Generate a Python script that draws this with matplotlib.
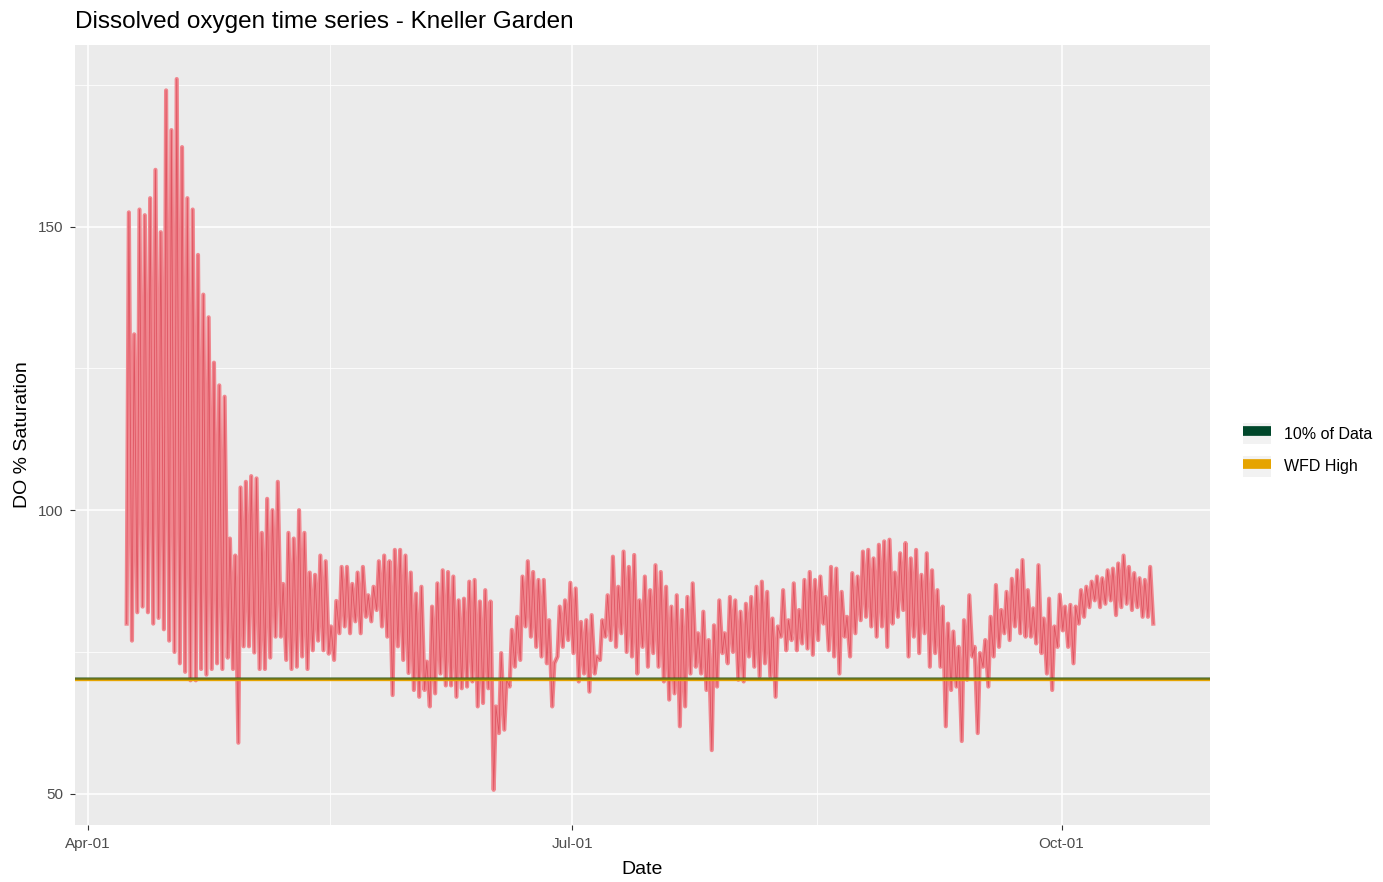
import matplotlib
matplotlib.use("Agg")
import matplotlib.pyplot as plt
import matplotlib.dates as mdates
from matplotlib.patches import Patch
from matplotlib.lines import Line2D
from matplotlib.legend_handler import HandlerTuple
import numpy as np
import pandas as pd

plt.rcParams['font.family'] = ['Liberation Sans', 'DejaVu Sans']

# daily DO % saturation at Kneller Garden: afternoon high and early-morning low
first_day = "2019-04-08"
daily_high = [
    152.5, 131, 153, 152, 155, 160, 149, 174, 167, 176,
    164, 155, 153, 145, 138, 134, 126, 122, 120, 95,
    92, 104, 105, 106, 105.6, 96, 102, 100, 105, 87,
    96, 95, 100, 96, 89, 88.6, 92, 91, 79.5, 84,
    90, 90, 87, 89, 90, 85, 86.5, 91, 92, 91,
    93, 93, 92, 89, 85.3, 86.5, 73.3, 83, 87.1, 89.4,
    89.1, 88.3, 84.1, 84.4, 87.4, 87.7, 83.9, 85.9, 83.9, 65.4,
    74.8, 70.1, 78.9, 81.2, 88.3, 91, 89.1, 87.7, 87.7, 80.6,
    73, 83, 84.1, 87.2, 86.2, 80.3, 80.6, 81.5, 74.2, 80.6,
    85, 91.8, 86.5, 92.7, 90,
    92.1, 84.1, 88.3, 85.9, 90.3, 89.1, 86.5, 83, 85, 82.4,
    84.7, 87.1, 78.3, 82.1, 77.1, 79.7, 84.1, 78.3, 84.7, 84.1,
    82.1, 83.5, 84.7, 86.5, 87.4, 85.6, 80.9, 79.5, 85.9, 80.6,
    87.1, 82.4, 87.7, 89.1, 87.7, 88.3, 84.7, 90, 89.7, 85.6,
    81.2, 88.9, 88.3, 92.7, 93, 91.5, 93.9, 94.5, 94.8, 89,
    92.4, 94.2, 91.5, 93, 88.6, 92.4, 89.4, 85.9, 83, 80,
    78.6, 75.9, 80.6, 85, 75.9, 74.8, 77.1, 81.2, 86.8, 82.4,
    85.6, 87.9, 89.4, 91.2, 85.9, 82.7, 90.3, 80.9, 84.4, 79.5,
    85.1, 83, 83.3, 83, 85.9, 86.5, 87.4, 88.3, 88, 89.4,
    89.7, 90.6, 92, 90, 88.9, 88, 87.7, 90,
]
daily_low = [
    80, 77, 82, 83, 82, 80, 81, 79, 77, 75,
    73, 71.5, 70, 70, 72, 71, 72, 73, 72, 74,
    72, 59, 76, 76, 74.9, 72, 72, 74, 77.7, 77.7,
    73.6, 72, 72.4, 74.2, 72, 75.3, 77, 75.3, 74.7, 73.6,
    78.3, 79.5, 78.3, 80.4, 78.3, 81.2, 80.4, 82.4, 79.5, 77.7,
    67.4, 76, 73.6, 71.3, 68.3, 67.1, 68.3, 65.4, 67.7, 71.2,
    69.1, 69.1, 67.1, 68.6, 68.9, 69.8, 65.4, 66, 68.6, 50.7,
    60.7, 61.3, 68.9, 72.4, 73.6, 79.5, 77.7, 75.9, 74.2, 73,
    65.4, 74.2, 75.9, 77.1, 74.8, 69.8, 71.2, 68, 71.2, 73.6,
    77.7, 77.1, 75.9, 78.3, 75,
    74.2, 71.2, 75.9, 72.4, 74.8, 72.4, 69.8, 66.6, 67.7, 61.9,
    65.4, 71.2, 72.4, 71.2, 68.3, 57.7, 68.9, 74.8, 73, 75,
    70.1, 69.8, 74.2, 72.4, 70.7, 73, 70.7, 67.1, 77.7, 75.3,
    77.1, 75.3, 76.5, 75.6, 74.5, 77.1, 80, 75.3, 74.2, 71.2,
    77.7, 74.2, 78.3, 80.6, 81.2, 79.5, 77.7, 79.5, 75.9, 80,
    81.2, 82.4, 74.2, 77.7, 74.8, 78.3, 72.4, 74.8, 72.4, 61.9,
    68.3, 68.9, 59.3, 70.1, 74.2, 60.7, 72.4, 68.9, 74.2, 75.9,
    78.3, 77.1, 79.5, 78.3, 77.7, 77.7, 76.5, 74.8, 71.2, 68.3,
    75.9, 78.8, 75.9, 73, 80, 81.2, 82.9, 84.1, 82.9, 83.5,
    84.1, 81.5, 82.9, 83.5, 82.4, 82.9, 81.2, 81.2,
]
last_reading = 80

wfd_high = 70.2
data_10pct = 70.4

days = pd.date_range(first_day, periods=len(daily_high), freq="D")
t_low = days + pd.Timedelta(hours=6)
t_high = days + pd.Timedelta(hours=16)

# interleave lows and highs into one time series
times = []
values = []
for tl, lo, th, hi in zip(t_low, daily_low, t_high, daily_high):
    times += [tl, th]
    values += [lo, hi]
times.append(days[-1] + pd.Timedelta(hours=30))
values.append(last_reading)

fig = plt.figure(figsize=(13.83, 8.82), dpi=100)
ax = fig.add_axes([75/1383, 1-825/882, (1210-75)/1383, (825-45)/882])
ax.set_facecolor('#EBEBEB')
for s in ax.spines.values():
    s.set_visible(False)

ax.plot(times, values, color='#F0868E', linewidth=3.0, zorder=3)
ax.plot(times, values, color='#D8404F', linewidth=0.6, alpha=0.7, zorder=3)
ax.axhline(wfd_high, color='#E6A400', linewidth=2.4, zorder=4)
ax.axhline(data_10pct, color='#00472B', linewidth=1.8, alpha=0.55, zorder=5)

ax.set_xlim(pd.Timestamp("2019-03-29 13:00"), pd.Timestamp("2019-10-28 22:00"))
ax.set_ylim(44.5, 182)

ax.set_yticks([50, 100, 150])
ax.set_yticks([75, 125, 175], minor=True)
ax.set_xticks([pd.Timestamp("2019-04-01"), pd.Timestamp("2019-07-01"), pd.Timestamp("2019-10-01")])
ax.set_xticks([pd.Timestamp("2019-05-16 12:00"), pd.Timestamp("2019-08-16")], minor=True)
ax.xaxis.set_major_formatter(mdates.DateFormatter('%b-%d'))

ax.grid(which='major', color='white', linewidth=1.1, zorder=0)
ax.grid(which='minor', color='white', linewidth=0.55, zorder=0)
ax.set_axisbelow(True)
ax.tick_params(which='major', length=3.5, width=0.8, color='#333333',
               labelsize=11, labelcolor='#4D4D4D', pad=5)
ax.tick_params(which='minor', length=0)

ax.set_xlabel('Date', fontsize=14, labelpad=7)
ax.set_ylabel('DO % Saturation', fontsize=14, labelpad=5)
ax.set_title('Dissolved oxygen time series - Kneller Garden', fontsize=17.5,
             loc='left', pad=12.5)

key_bg = '#F2F2F2'
handles = [
    (Patch(facecolor=key_bg, edgecolor='none'),
     Line2D([], [], color='#00472B', linewidth=7, solid_capstyle='butt')),
    (Patch(facecolor=key_bg, edgecolor='none'),
     Line2D([], [], color='#E6A400', linewidth=7, solid_capstyle='butt')),
]
fig.legend(handles, ['10% of Data', 'WFD High'], loc='center left',
           bbox_to_anchor=(1229/1383, 1-450/882), frameon=False, fontsize=11.5,
           handlelength=1.7, handleheight=1.6, handletextpad=0.85, labelspacing=0.75,
           handler_map={tuple: HandlerTuple(ndivide=1)})

fig.savefig('out.png', dpi=100)
